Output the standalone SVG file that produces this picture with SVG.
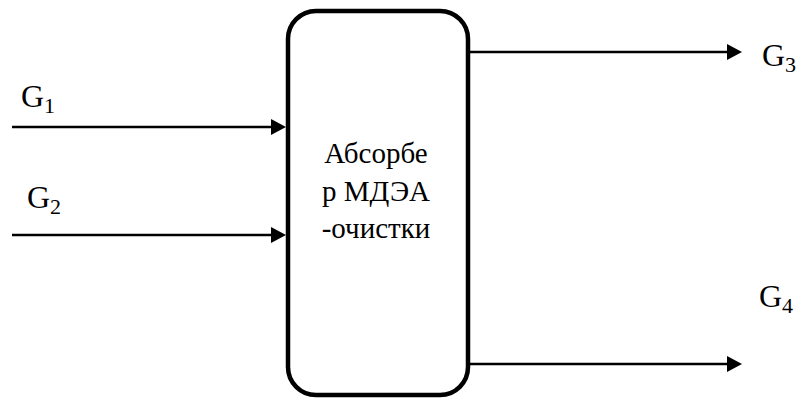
<svg xmlns="http://www.w3.org/2000/svg" width="801" height="398" viewBox="0 0 801 398">
<style>
  .conn { stroke: #000; stroke-width: 2.6; fill: none; }
  .box { fill: #fff; stroke: #000; stroke-width: 4.5; }
  .lbl { font-family: 'Liberation Serif', 'Times New Roman', 'DejaVu Serif', serif; font-size: 32px; fill: #000; }
  .sub { font-size: 22px; }
  .body { font-family: 'Liberation Serif', 'Times New Roman', 'DejaVu Serif', serif; font-size: 29px; fill: #000; text-anchor: middle; }
</style>
<defs>
  <marker id="arr" markerUnits="userSpaceOnUse" markerWidth="15" markerHeight="16" viewBox="0 0 15 16" refX="1" refY="8" orient="auto">
    <path d="M0,0 L15,8 L0,16 Z" fill="#000"/>
  </marker>
</defs>
<rect width="801" height="398" fill="#fff"/>
<g id="connectors">
  <line class="conn" x1="12" y1="127" x2="272" y2="127" marker-end="url(#arr)"/>
  <line class="conn" x1="12" y1="235" x2="272" y2="235" marker-end="url(#arr)"/>
  <line class="conn" x1="469" y1="52" x2="728" y2="52" marker-end="url(#arr)"/>
  <line class="conn" x1="469" y1="364" x2="728" y2="364" marker-end="url(#arr)"/>
</g>
<g id="absorber">
  <rect class="box" x="288" y="11" width="180" height="384" rx="28" ry="28"/>
  <text class="body" x="376" y="163" font-family="Liberation Serif, serif">Абсорбе</text>
  <text class="body" x="376" y="201" font-family="Liberation Serif, serif">р МДЭА</text>
  <text class="body" x="376" y="238" font-family="Liberation Serif, serif">-очистки</text>
</g>
<g id="label-g1"><text class="lbl" x="21" y="107">G<tspan class="sub" dy="6">1</tspan></text></g>
<g id="label-g2"><text class="lbl" x="27" y="208">G<tspan class="sub" dy="6">2</tspan></text></g>
<g id="label-g3"><text class="lbl" x="762" y="66">G<tspan class="sub" dy="6">3</tspan></text></g>
<g id="label-g4"><text class="lbl" x="759" y="307">G<tspan class="sub" dy="6">4</tspan></text></g>
</svg>
